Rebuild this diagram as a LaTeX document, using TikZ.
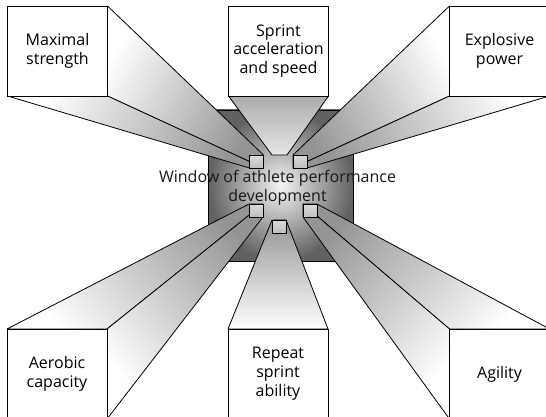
\documentclass[tikz,border=0pt]{standalone}
\usepackage{fontspec}
\setmainfont{Open Sans}
\begin{document}
\begin{tikzpicture}[x=1pt,y=-1pt,
  label font/.style={font=\fontsize{16}{18.8}\selectfont},
  box/.style={draw=black, line width=0.9pt, fill=white, minimum width=100pt,
    minimum height=90pt, inner sep=0pt, outer sep=0pt, align=center, label font},
  port/.style={draw=black, line width=0.9pt, minimum width=14pt, minimum height=13pt,
    inner sep=0pt, outer sep=0pt, top color=gray!30, bottom color=gray!50},
  hub/.style={draw=black, line width=0.9pt, minimum width=145pt, minimum height=151pt,
    inner sep=0pt, outer sep=0pt, inner color=gray!8, outer color=black!62},
  beam/.style={draw=black, line width=0.8pt, line join=round,
    top color=black!42, bottom color=white},
]
\useasboundingbox (0,0) rectangle (546,417);
\clip (0,0) rectangle (546,417);

% central window
\node[hub] (hub) at (280.5,185.5) {};

% outer qualities
\node[box] (maxs) at (57.5,51)   {Maximal\\strength};
\node[box] (sprt) at (278.5,51)  {Sprint\\acceleration\\and speed};
\node[box] (expl) at (499.5,51)  {Explosive\\power};
\node[box] (aero) at (57,374)    {Aerobic\\capacity};
\node[box] (rept) at (278,374)   {Repeat\\sprint\\ability};
\node[box] (agil) at (499.5,374) {Agility};

% inner ports on the window
\node[port] (pmax) at (256.5,161.5) {};
\node[port] (pexp) at (300,161.5)   {};
\node[port] (paer) at (256,210.5)   {};
\node[port] (prep) at (279,226.5)   {};
\node[port] (pagi) at (310,210.5)   {};
\coordinate (spL) at (272,155);
\coordinate (spR) at (287,155);

% beams from each quality into the window
\path[beam, shading angle=-119] (maxs.north east) -- (pmax.north east) -- (pmax.south east) -- (maxs.south east) -- cycle;
\path[beam, shading angle=-119] (maxs.south west) -- (maxs.south east) -- (pmax.south east) -- (pmax.south west) -- cycle;

\path[beam, top color=gray!65, bottom color=gray!20] (sprt.south west) -- (sprt.south east) -- (spR) -- (spL) -- cycle;

\path[beam, shading angle=119] (expl.north west) -- (pexp.north west) -- (pexp.south west) -- (expl.south west) -- cycle;
\path[beam, shading angle=119] (expl.south west) -- (expl.south east) -- (pexp.south east) -- (pexp.south west) -- cycle;

\path[beam, shading angle=-50.6] (aero.north west) -- (aero.north east) -- (paer.north east) -- (paer.north west) -- cycle;
\path[beam, shading angle=-50.6] (aero.north east) -- (paer.north east) -- (paer.south east) -- (aero.south east) -- cycle;

\path[beam, shading angle=0] (rept.north west) -- (rept.north east) -- (prep.north east) -- (prep.north west) -- cycle;

\path[beam, shading angle=49.2] (agil.north west) -- (agil.north east) -- (pagi.north east) -- (pagi.north west) -- cycle;
\path[beam, shading angle=49.2] (agil.north west) -- (pagi.north west) -- (pagi.south west) -- (agil.south west) -- cycle;

% boxes and ports drawn over the beams
\foreach \b in {maxs,sprt,expl,aero,rept,agil} {
  \path[draw=black, line width=0.9pt, fill=white] (\b.north west) rectangle (\b.south east);
}
\node[box, draw=none, fill=none] at (maxs) {Maximal\\strength};
\node[box, draw=none, fill=none] at (sprt) {Sprint\\acceleration\\and speed};
\node[box, draw=none, fill=none] at (expl) {Explosive\\power};
\node[box, draw=none, fill=none] at (aero) {Aerobic\\capacity};
\node[box, draw=none, fill=none] at (rept) {Repeat\\sprint\\ability};
\node[box, draw=none, fill=none] at (agil) {Agility};

\foreach \p in {pmax,pexp,paer,prep,pagi} {
  \path[draw=black, line width=0.9pt, top color=gray!30, bottom color=gray!50] (\p.north west) rectangle (\p.south east);
}

\node[label font, align=center, text=black!90] (title) at (277.5,187.5)
  {Window of athlete performance\\development};
\end{tikzpicture}
\end{document}
